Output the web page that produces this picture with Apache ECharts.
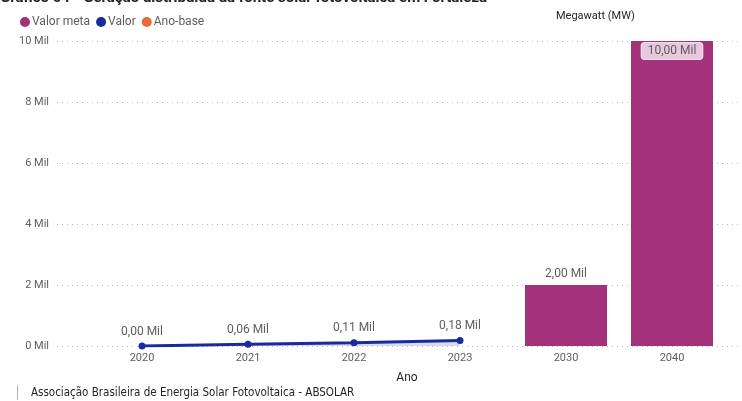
<!DOCTYPE html>
<html><head><meta charset="utf-8">
<script src="https://cdn.jsdelivr.net/npm/echarts@6/dist/echarts.min.js"></script>
<style>html,body{margin:0;padding:0;background:#fff}#c{width:742px;height:401px}</style>
</head><body><div id="c"></div>
<script>
const years = ['2020','2021','2022','2023','2030','2040'];
const valor = [0, 60, 110, 180, null, null];
const valorMeta = [null, null, null, null, 2000, 10000];
const yTicks = [0, 2000, 4000, 6000, 8000, 10000];
const legendNames = ['Valor meta', 'Valor', 'Ano-base'];

const FONT = 'Roboto, "Noto Sans", sans-serif';
const fmt = v => (v/1000).toFixed(2).replace('.', ',') + ' Mil';
const chart = echarts.init(document.getElementById('c'));
chart.setOption({
  animation: false,
  textStyle: {fontFamily: FONT},
  graphic: [
    {type:'text', left: 0, top: -9, style:{text:'Gráfico 04 - Geração distribuída da fonte solar fotovoltaica em Fortaleza', font:'bold 15px ' + FONT, fill:'#252423'}},
    {type:'text', left: 556, top: 11, style:{text:'Megawatt (MW)', font:'11px ' + FONT, fill:'#252423'}},
    {type:'rect', shape:{x:17, y:385, width:1, height:15}, style:{fill:'#b0b0b0'}},
    {type:'text', left: 31, top: 387, style:{text:'Associação Brasileira de Energia Solar Fotovoltaica - ABSOLAR', font:'11.5px "DejaVu Sans Condensed", ' + FONT, fill:'#252423'}}
  ],
  legend: {
    data: legendNames, left: 15, top: 11, icon: 'circle', itemWidth: 10, itemHeight: 10, itemGap: 6,
    textStyle: {fontSize: 12, color: '#605e5c', padding:[0,0,0,-3]}
  },
  grid: [
    {left: 57, right: 0, top: 41, bottom: 55},
    {left: 89, right: 17, top: 41, bottom: 55}
  ],
  xAxis: [
    {gridIndex: 0, type: 'category', data: years, show: false},
    {gridIndex: 1, type: 'category', data: years,
     axisLine:{show:false}, axisTick:{show:false},
     axisLabel:{color:'#605e5c', fontSize: 11, margin: 7},
     name: 'Ano', nameLocation: 'middle', nameGap: 26,
     nameTextStyle:{color:'#252423', fontSize: 12}}
  ],
  yAxis: [
    {gridIndex: 0, type: 'value', min: 0, max: 10000, interval: 2000,
     axisLabel:{color:'#605e5c', fontSize: 11, margin: 8, formatter: v => (v/1000) + ' Mil'},
     splitLine:{lineStyle:{type:[1,4], color:'#b8b8b8'}},
     axisLine:{show:false}, axisTick:{show:false}},
    {gridIndex: 1, type: 'value', min: 0, max: 10000, interval: 2000, show: false, splitLine:{show:false}}
  ],
  series: [
    {name:'Valor meta', type:'bar', xAxisIndex:1, yAxisIndex:1, data: valorMeta.map((v,i) => {
       if (v === null) return null;
       if (v === 10000) return {value: v, label:{show:true, position:'insideTop', distance: 2, formatter: p => fmt(p.value),
          color:'#605e5c', fontSize: 12, backgroundColor:'#e8c8dd', borderColor:'#f3e0ec', borderWidth:1, borderRadius: 3, padding:[2,6,2,6]}};
       return v;
     }),
     barWidth: 82, itemStyle:{color:'#a3317b'},
     label:{show:true, position:'top', color:'#605e5c', fontSize:12, distance: 5, formatter: p => fmt(p.value)}},
    {name:'Valor', type:'line', xAxisIndex:1, yAxisIndex:1, data: valor,
     symbol:'circle', symbolSize: 7, lineStyle:{color:'#1a2a9c', width: 3},
     itemStyle:{color:'#1a2a9c'}, areaStyle:{color:'rgba(26,42,156,0.25)'},
     label:{show:true, position:'top', distance: 5, color:'#605e5c', fontSize:12, formatter: p => fmt(p.value)}},
    {name:'Ano-base', type:'line', xAxisIndex:1, yAxisIndex:1, data: [], itemStyle:{color:'#e66c37'}}
  ]
});
</script></body></html>
